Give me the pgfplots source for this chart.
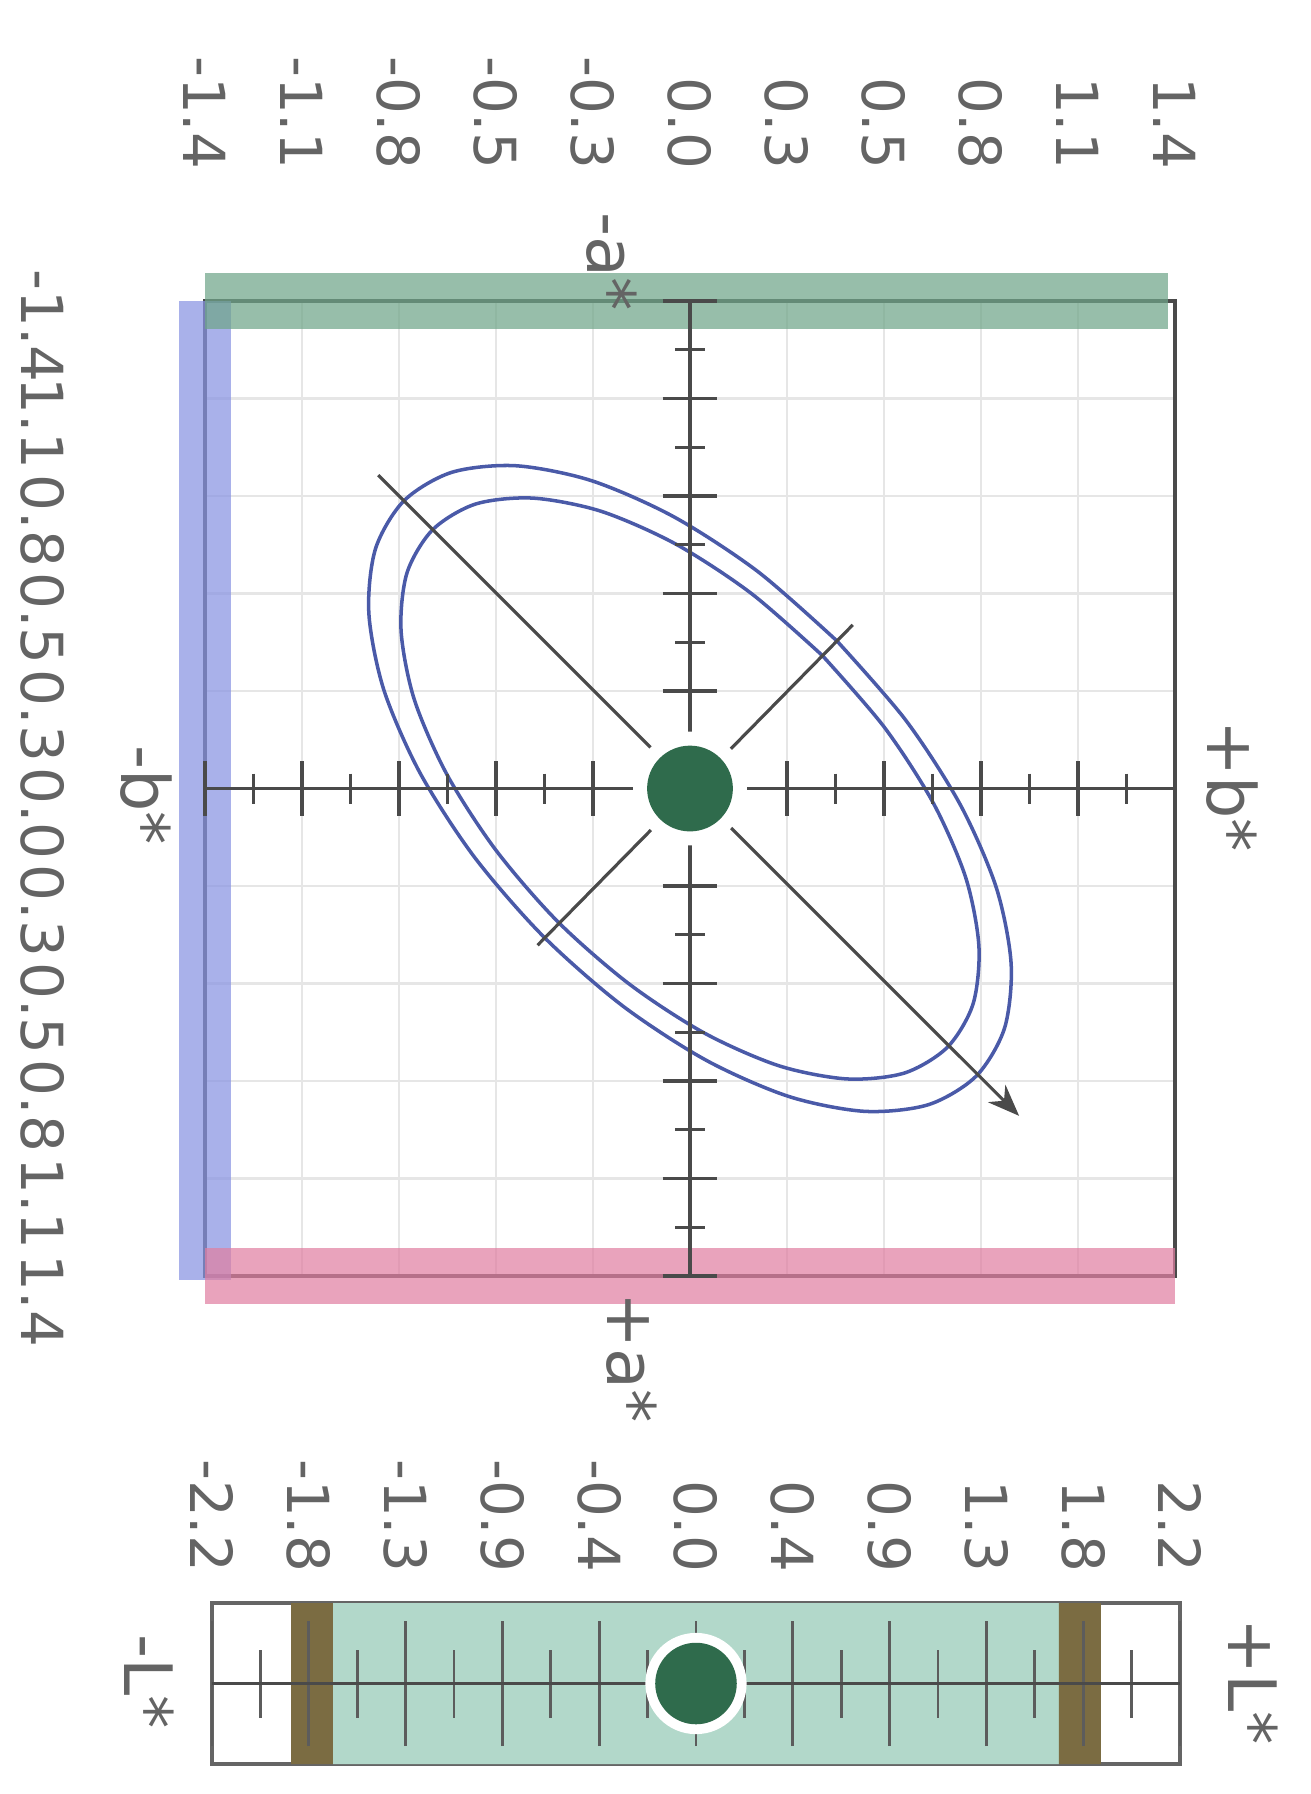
\documentclass[border=0pt]{standalone}
\usepackage{fontspec}
\setmainfont{DejaVu Sans}
\usepackage{pgfplots}
\pgfplotsset{compat=1.18}
\usetikzlibrary{arrows.meta}
\definecolor{txt}{HTML}{646464}
\definecolor{frm}{HTML}{4A4A4A}
\definecolor{gridc}{HTML}{E6E6E6}
\definecolor{ell}{HTML}{4A5AA8}
\definecolor{bandG}{HTML}{6FA589}
\definecolor{bandB}{HTML}{8893E2}
\definecolor{bandP}{HTML}{E07FA2}
\definecolor{dotG}{HTML}{2F6B4C}
\definecolor{lteal}{HTML}{B2D8CA}
\definecolor{lbrown}{HTML}{7B6C42}
\newcommand{\tl}{\fontsize{16.5}{19}\selectfont}
\newcommand{\al}{\fontsize{19}{22}\selectfont}
\begin{document}
\begin{tikzpicture}
\useasboundingbox (0,0) rectangle (13.11,-17.94);
% ---------- main a*b* plane: frame, grid, bands, ellipses ----------
\begin{axis}[
  at={(2.05cm,-3.01cm)}, anchor=north west,
  scale only axis, width=9.70cm, height=9.75cm,
  xmin=-1.4, xmax=1.4, ymin=-1.4, ymax=1.4, y dir=reverse,
  axis line style={frm, line width=1pt},
  xtick={-1.4,-1.12,-0.84,-0.56,-0.28,0,0.28,0.56,0.84,1.12,1.4},
  ytick={-1.4,-1.12,-0.84,-0.56,-0.28,0,0.28,0.56,0.84,1.12,1.4},
  xticklabels={-1.4,-1.1,-0.8,-0.5,-0.3,0.0,0.3,0.5,0.8,1.1,1.4},
  yticklabels={-1.4,1.1,0.8,0.5,0.3,0.0,0.3,0.5,0.8,1.1,1.4},
  major tick length=0pt,
  grid=major, grid style={gridc, line width=0.6pt},
  xticklabel pos=upper,
  xticklabel style={font=\tl, text=txt, inner sep=0pt, yshift=1.31cm, rotate=-90, anchor=east},
  yticklabel style={font=\tl, text=txt, inner sep=0pt, xshift=-1.62cm, yshift=-0.25cm, rotate=-90, anchor=center},
  clip=false,
]
\addplot[bandB, opacity=0.72, line width=15pt] coordinates {(-1.4,-1.4) (-1.4,1.41)};
\addplot[bandG, opacity=0.72, line width=16pt] coordinates {(-1.4,-1.4) (1.38,-1.4)};
\addplot[bandP, opacity=0.72, line width=16pt] coordinates {(-1.4,1.4) (1.4,1.4)};
\addplot[ell, line width=1pt, smooth] coordinates {
(0.424,-0.424) (0.196,-0.623) (-0.046,-0.780) (-0.284,-0.884) (-0.503,-0.927) (-0.688,-0.908)
(-0.826,-0.826) (-0.908,-0.688) (-0.927,-0.503) (-0.884,-0.284) (-0.780,-0.046) (-0.623,0.196)
(-0.424,0.424) (-0.196,0.623) (0.046,0.780) (0.284,0.884) (0.503,0.927) (0.688,0.908)
(0.826,0.826) (0.908,0.688) (0.927,0.503) (0.884,0.284) (0.780,0.046) (0.623,-0.196) (0.424,-0.424)};
\addplot[ell, line width=1pt, smooth] coordinates {
(0.382,-0.382) (0.176,-0.561) (-0.041,-0.702) (-0.256,-0.796) (-0.453,-0.834) (-0.619,-0.817)
(-0.743,-0.743) (-0.817,-0.619) (-0.834,-0.453) (-0.796,-0.256) (-0.702,-0.041) (-0.561,0.176)
(-0.382,0.382) (-0.176,0.561) (0.041,0.702) (0.256,0.796) (0.453,0.834) (0.619,0.817)
(0.743,0.743) (0.817,0.619) (0.834,0.453) (0.796,0.256) (0.702,0.041) (0.561,-0.176) (0.382,-0.382)};
\addplot[frm, line width=0.9pt, -{Stealth[length=9pt,width=7pt]}] coordinates {(-0.90,-0.90) (0.95,0.94)};
\addplot[frm, line width=0.9pt] coordinates {(-0.44,0.45) (0.47,-0.47)};
\end{axis}
% ---------- crosshair with ticks and centre dot ----------
\begin{axis}[
  at={(2.05cm,-3.01cm)}, anchor=north west,
  scale only axis, width=9.70cm, height=9.75cm,
  xmin=-1.4, xmax=1.4, ymin=-1.4, ymax=1.4, y dir=reverse,
  axis lines=middle, axis line style={-, frm, line width=1.1pt},
  xtick={-1.4,-1.12,-0.84,-0.56,-0.28,0,0.28,0.56,0.84,1.12,1.4},
  ytick={-1.4,-1.12,-0.84,-0.56,-0.28,0,0.28,0.56,0.84,1.12,1.4},
  minor tick num=1, tick align=center,
  major tick length=0.55cm, minor tick length=0.30cm,
  tick style={frm, line width=0.9pt},
  xticklabel=\empty, yticklabel=\empty,
  clip=false,
]
\addplot[only marks, mark=*, color=white, mark size=16pt] coordinates {(0,0)};
\addplot[only marks, mark=*, color=dotG, mark size=12pt] coordinates {(0,0)};
\end{axis}
% ---------- L* bar ----------
\begin{axis}[
  at={(2.12cm,-16.03cm)}, anchor=north west,
  scale only axis, width=9.68cm, height=1.61cm,
  xmin=-2.2, xmax=2.2, ymin=-1, ymax=1,
  axis line style={frm!85, line width=0.9pt},
  xtick={-2.2,-1.76,-1.32,-0.88,-0.44,0,0.44,0.88,1.32,1.76,2.2},
  xticklabels={-2.2,-1.8,-1.3,-0.9,-0.4,0.0,0.4,0.9,1.3,1.8,2.2},
  ytick=\empty, major tick length=0pt,
  xticklabel pos=upper,
  xticklabel style={font=\tl, text=txt, inner sep=0pt, yshift=0.30cm, rotate=-90, anchor=east},
  clip=false,
]
\addplot[fill=lteal, draw=none] coordinates {(-1.65,-1) (1.65,-1) (1.65,1) (-1.65,1) (-1.65,-1)};
\addplot[fill=lbrown, draw=none] coordinates {(-1.84,-1) (-1.65,-1) (-1.65,1) (-1.84,1) (-1.84,-1)};
\addplot[fill=lbrown, draw=none] coordinates {(1.65,-1) (1.84,-1) (1.84,1) (1.65,1) (1.65,-1)};
\end{axis}
\begin{axis}[
  at={(2.12cm,-16.03cm)}, anchor=north west,
  scale only axis, width=9.68cm, height=1.61cm,
  xmin=-2.2, xmax=2.2, ymin=-1, ymax=1,
  axis x line=middle, axis y line=none, axis line style={-, frm, line width=1pt},
  xtick={-2.2,-1.76,-1.32,-0.88,-0.44,0,0.44,0.88,1.32,1.76,2.2},
  minor tick num=1, tick align=center,
  major tick length=1.25cm, minor tick length=0.68cm,
  tick style={frm!90, line width=0.8pt},
  xticklabel=\empty, ytick=\empty,
  clip=false,
]
\addplot[only marks, mark=*, color=white, mark size=14.2pt] coordinates {(0,0)};
\addplot[only marks, mark=*, color=dotG, mark size=11.4pt] coordinates {(0,0)};
\end{axis}
% ---------- axis names ----------
\node[rotate=-90, font=\al, text=txt] at (12.32,-7.86) {+b*};
\node[rotate=-90, font=\al, text=txt] at (1.46,-7.95) {-b*};
\node[rotate=-90, font=\al, text=txt] at (6.12,-2.62) {-a*};
\node[rotate=-90, font=\al, text=txt] at (6.32,-13.58) {+a*};
\node[rotate=-90, font=\al, text=txt] at (12.53,-16.82) {+L*};
\node[rotate=-90, font=\al, text=txt] at (1.49,-16.82) {-L*};
\end{tikzpicture}
\end{document}
